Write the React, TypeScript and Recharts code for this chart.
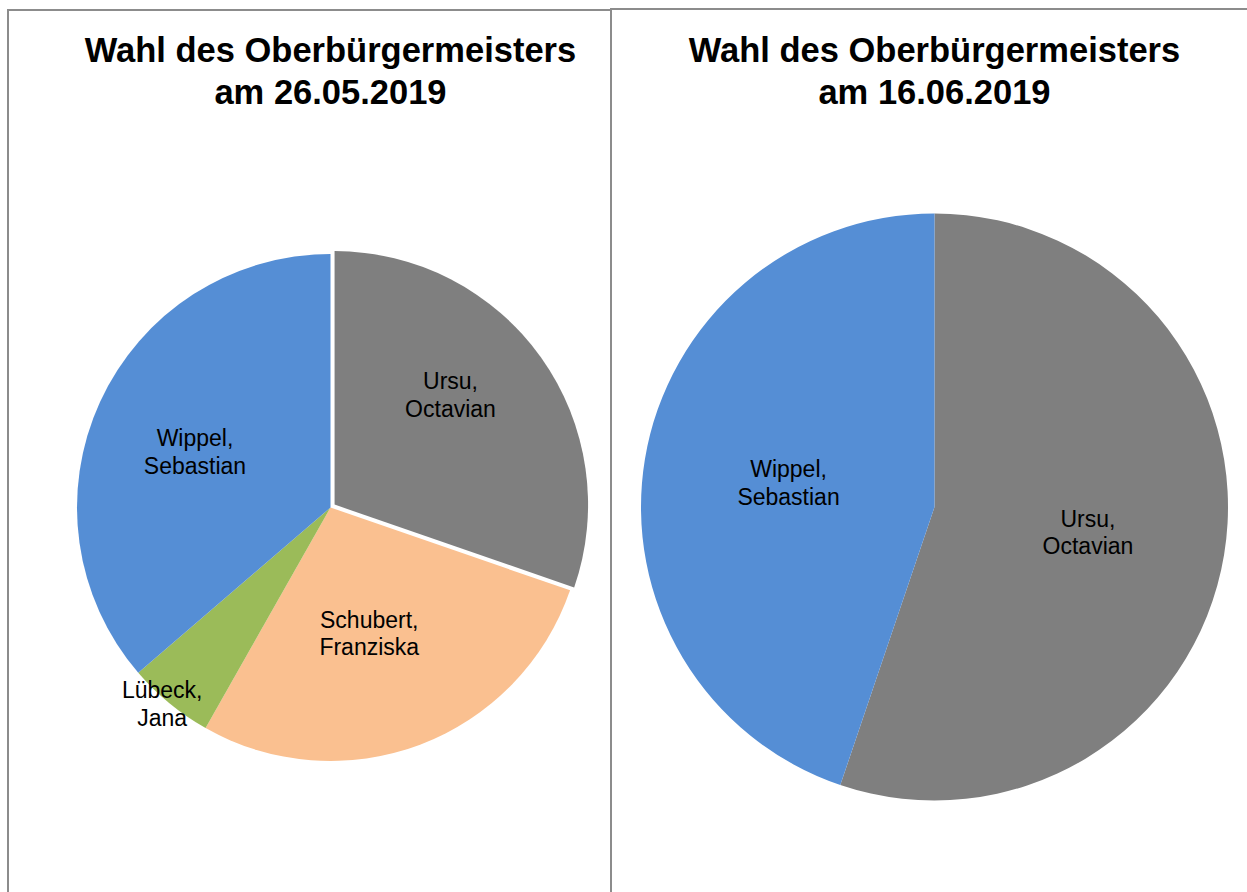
import React from "react";
import { PieChart, Pie, Cell } from "recharts";

// ---- data ----
const round1Candidates = ["Ursu, Octavian", "Schubert, Franziska", "Lübeck, Jana", "Wippel, Sebastian"];
const round1Values = [30.3, 27.9, 5.5, 36.3];
const round2Candidates = ["Ursu, Octavian", "Wippel, Sebastian"];
const round2Values = [55.2, 44.8];
const titles = ["Wahl des Oberbürgermeisters am 26.05.2019", "Wahl des Oberbürgermeisters am 16.06.2019"];
const titleLine1 = "Wahl des Oberbürgermeisters";
const titleLine2 = ["am 26.05.2019", "am 16.06.2019"];

// ---- styles ----
const colorByName: Record<string, string> = {
  "Ursu, Octavian": "#7f7f7f",
  "Schubert, Franziska": "#fac090",
  "Lübeck, Jana": "#9bbb59",
  "Wippel, Sebastian": "#558ed5",
};
const FONT = "'Liberation Sans', Arial, Helvetica, sans-serif";
const LEFT = { cx: 330.5, cy: 507.5, r: 253.5 };
const RIGHT = { cx: 934.5, cy: 507, r: 293.5 };
const EXPLODE = 5;
// label placement: radius factor and clockwise angle tweak (deg)
const leftLabelStyle: Record<string, { f: number; da: number }> = {
  "Ursu, Octavian": { f: 0.63, da: -8 },
  "Schubert, Franziska": { f: 0.52, da: 3.6 },
  "Lübeck, Jana": { f: 1.02, da: 1.2 },
  "Wippel, Sebastian": { f: 0.578, da: -2.3 },
};
const rightLabelStyle: Record<string, { f: number; da: number }> = {
  "Ursu, Octavian": { f: 0.53, da: 0 },
  "Wippel, Sebastian": { f: 0.504, da: 0 },
};

const round1 = round1Candidates.map((name, i) => ({ name, value: round1Values[i] }));
const round2 = round2Candidates.map((name, i) => ({ name, value: round2Values[i] }));

const RAD = Math.PI / 180;

function makeLabel(styleMap: Record<string, { f: number; da: number }>, only?: (name: string) => boolean) {
  return (props: any) => {
    const name: string = props.payload?.name ?? props.name;
    if (only && !only(name)) return null;
    const st = styleMap[name] || { f: 0.55, da: 0 };
    const ang = props.midAngle - st.da; // recharts angle is CCW from 3 o'clock
    const r = props.outerRadius * st.f;
    const x = props.cx + r * Math.cos(ang * RAD);
    const y = props.cy - r * Math.sin(ang * RAD);
    const parts = name.split(", ");
    return (
      <text
        x={x}
        y={y}
        textAnchor="middle"
        fill="#000"
        fontFamily={FONT}
        fontSize={23}
        key={"lbl-" + name}
      >
        <tspan x={x} y={y - 5.5}>{parts[0] + ","}</tspan>
        <tspan x={x} y={y + 22}>{parts[1]}</tspan>
      </text>
    );
  };
}

// explode offset for the first slice of round 1 (direction = its mid angle)
const total1 = round1Values.reduce((a, b) => a + b, 0);
const midCw = (round1Values[0] / 2 / total1) * 360;
const exDx = EXPLODE * Math.sin(midCw * RAD);
const exDy = -EXPLODE * Math.cos(midCw * RAD);

const lineColor = "#8c8c8c";

export default function App() {
  return (
    <div style={{ position: "absolute", left: 0, top: 0, width: 1247, height: 892, background: "#fff", overflow: "hidden" }}>
      {/* panel borders */}
      <div style={{ position: "absolute", left: 7, top: 9, width: 2, height: 883, background: lineColor }} />
      <div style={{ position: "absolute", left: 7, top: 9, width: 604, height: 2, background: lineColor }} />
      <div style={{ position: "absolute", left: 610, top: 8, width: 2, height: 884, background: lineColor }} />
      <div style={{ position: "absolute", left: 610, top: 8, width: 637, height: 2, background: lineColor }} />

      <div style={{ position: "absolute", left: 0, top: 0 }}>
        <PieChart width={1247} height={892} margin={{ top: 0, right: 0, bottom: 0, left: 0 }}>
          {/* exploded first slice of round 1 */}
          <Pie
            data={round1}
            dataKey="value"
            nameKey="name"
            cx={LEFT.cx + exDx}
            cy={LEFT.cy + exDy}
            outerRadius={LEFT.r}
            innerRadius={0}
            startAngle={90}
            endAngle={-270}
            stroke="none"
            isAnimationActive={false}
            label={makeLabel(leftLabelStyle, (n) => n === round1Candidates[0])}
            labelLine={false}
          >
            {round1.map((d, i) => (
              <Cell key={i} fill={i === 0 ? colorByName[d.name] : "none"} stroke="none" />
            ))}
          </Pie>
          <Pie
            data={round1}
            dataKey="value"
            nameKey="name"
            cx={LEFT.cx}
            cy={LEFT.cy}
            outerRadius={LEFT.r}
            innerRadius={0}
            startAngle={90}
            endAngle={-270}
            stroke="none"
            isAnimationActive={false}
            label={makeLabel(leftLabelStyle, (n) => n !== round1Candidates[0])}
            labelLine={false}
          >
            {round1.map((d, i) => (
              <Cell key={i} fill={i === 0 ? "none" : colorByName[d.name]} stroke="none" />
            ))}
          </Pie>
          <Pie
            data={round2}
            dataKey="value"
            nameKey="name"
            cx={RIGHT.cx}
            cy={RIGHT.cy}
            outerRadius={RIGHT.r}
            innerRadius={0}
            startAngle={90}
            endAngle={-270}
            stroke="none"
            isAnimationActive={false}
            label={makeLabel(rightLabelStyle)}
            labelLine={false}
          >
            {round2.map((d, i) => (
              <Cell key={i} fill={colorByName[d.name]} stroke="none" />
            ))}
          </Pie>
        </PieChart>
      </div>

      {/* titles */}
      {[LEFT.cx, RIGHT.cx].map((cx, i) => (
        <div
          key={i}
          title={titles[i]}
          style={{
            position: "absolute",
            left: cx - 320,
            width: 640,
            top: 29,
            textAlign: "center",
            fontFamily: FONT,
            fontWeight: "bold",
            fontSize: 34.5,
            lineHeight: "42px",
            color: "#000",
          }}
        >
          <div>{titleLine1}</div>
          <div>{titleLine2[i]}</div>
        </div>
      ))}
    </div>
  );
}
